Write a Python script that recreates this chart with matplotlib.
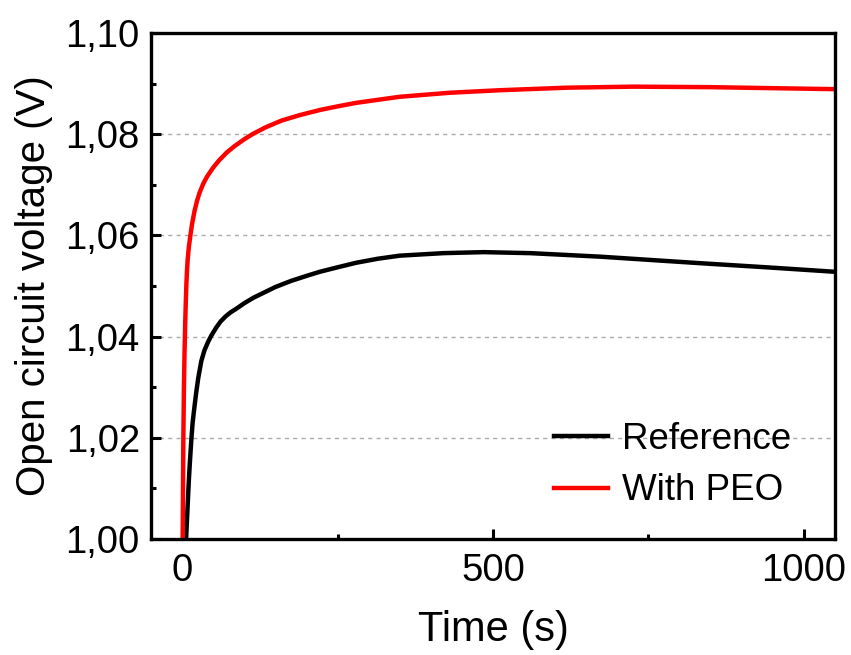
import matplotlib
matplotlib.use("Agg")
import matplotlib.pyplot as plt
from matplotlib.ticker import MultipleLocator, FuncFormatter

# values
t_ref = [4, 6.5, 8, 9.5, 11, 12.8, 15, 17, 20, 22.6, 26, 31, 36, 42, 47, 55, 62,
         70, 78, 87, 100, 115, 130, 150, 175, 200, 221, 250, 280, 315, 350, 420,
         485, 560, 673, 760, 835, 940, 1052]
v_ref = [0.99, 1.000, 1.004, 1.008, 1.0118, 1.0156, 1.0198, 1.023, 1.0262, 1.0288,
         1.0318, 1.0352, 1.0373, 1.0390, 1.0402, 1.0418, 1.0430, 1.0440, 1.0448,
         1.0455, 1.0466, 1.0477, 1.0486, 1.0498, 1.0510, 1.0520, 1.0528, 1.0537,
         1.0546, 1.0554, 1.0560, 1.0565, 1.0567, 1.0565, 1.0558, 1.0551, 1.0545,
         1.0537, 1.0528]

t_peo = [0, 1, 2, 3, 4, 5, 6, 7, 8, 9, 11, 13.4, 16, 20, 24, 28, 34, 40, 50, 60,
         72, 85, 100, 113, 135, 160, 190, 222, 250, 280, 350, 431, 512, 620, 726,
         850, 950, 1052]
v_peo = [0.985, 1.000, 1.019, 1.030, 1.037, 1.0425, 1.0468, 1.0505, 1.0532, 1.0552,
         1.0578, 1.0600, 1.0622, 1.0648, 1.0668, 1.0684, 1.0702, 1.0716, 1.0734,
         1.0749, 1.0764, 1.0777, 1.0790, 1.0800, 1.0814, 1.0827, 1.0838, 1.0848,
         1.0855, 1.0862, 1.0874, 1.0882, 1.0887, 1.0892, 1.0894, 1.0893, 1.0891,
         1.0889]

plt.rcParams['font.family'] = ['Liberation Sans', 'DejaVu Sans']

fig = plt.figure(figsize=(8.51, 6.55), dpi=100)
ax = fig.add_axes([0.1774, 0.177, 0.8038, 0.7726])

ax.plot(t_ref, v_ref, color='black', lw=3.2, label='Reference')
ax.plot(t_peo, v_peo, color='#ff0000', lw=3.2, label='With PEO')

ax.set_xlim(-50, 1050)
ax.set_ylim(1.00, 1.10)
ax.xaxis.set_major_locator(MultipleLocator(500))
ax.xaxis.set_minor_locator(MultipleLocator(250))
ax.yaxis.set_major_locator(MultipleLocator(0.02))
ax.yaxis.set_minor_locator(MultipleLocator(0.01))
ax.yaxis.set_major_formatter(FuncFormatter(lambda v, p: f"{v:.2f}".replace('.', ',')))

for yv in [1.02, 1.04, 1.06, 1.08]:
    ax.axhline(yv, color='#aaaaaa', lw=1.0, ls=(0, (3, 3)), zorder=0)

ax.tick_params(which='both', direction='in', width=2.2, labelsize=27.5,
               top=False, right=False)
ax.tick_params(which='major', length=7)
ax.tick_params(which='minor', length=3.5)
ax.tick_params(axis='y', which='major', pad=8)
ax.tick_params(axis='x', which='major', pad=10)
for s in ax.spines.values():
    s.set_linewidth(2.4)

ax.set_xlabel('Time (s)', fontsize=30, labelpad=15)
ax.set_ylabel('Open circuit voltage (V)', fontsize=29, labelpad=9)

ax.legend(loc='lower right', frameon=False, fontsize=26.5, handlelength=1.45,
          handletextpad=0.4, labelspacing=0.45, bbox_to_anchor=(0.985, -0.005))

fig.savefig('out.png', dpi=100)
